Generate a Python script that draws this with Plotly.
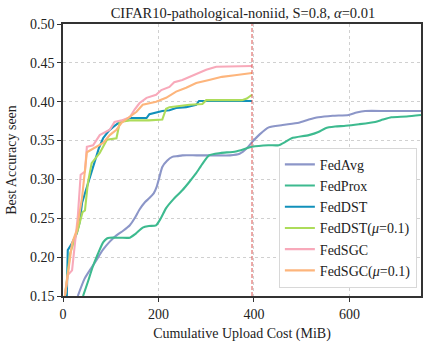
import plotly.graph_objects as go

TITLE = "CIFAR10-pathological-noniid, S=0.8, <i>α</i>=0.01"
BUDGET = 396

avg_x = [31, 45, 56, 70, 83, 98, 112, 126, 140, 150, 160, 172, 181, 190, 196, 202, 208, 218, 229, 240, 250, 280, 320, 350, 370, 385, 396, 412, 431, 460, 494, 515, 535, 565, 598, 615, 633, 680, 750]
avg_y = [0.15, 0.172, 0.183, 0.196, 0.209, 0.220, 0.228, 0.234, 0.241, 0.250, 0.261, 0.271, 0.276, 0.282, 0.290, 0.303, 0.316, 0.324, 0.329, 0.330, 0.331, 0.331, 0.331, 0.331, 0.333, 0.340, 0.348, 0.358, 0.367, 0.370, 0.373, 0.377, 0.380, 0.382, 0.383, 0.386, 0.388, 0.388, 0.388]

prox_x = [42, 52, 62, 73, 84, 92, 98, 120, 140, 152, 167, 180, 195, 205, 216, 232, 250, 265, 279, 292, 306, 330, 362, 396, 430, 452, 465, 479, 515, 535, 550, 570, 592, 620, 654, 670, 688, 720, 750]
prox_y = [0.15, 0.168, 0.187, 0.204, 0.219, 0.224, 0.225, 0.225, 0.225, 0.230, 0.238, 0.240, 0.241, 0.250, 0.263, 0.275, 0.286, 0.297, 0.308, 0.320, 0.331, 0.334, 0.336, 0.342, 0.344, 0.344, 0.348, 0.353, 0.357, 0.361, 0.366, 0.368, 0.369, 0.371, 0.374, 0.377, 0.380, 0.381, 0.383]

dst_x = [8, 10, 15, 19, 29, 35, 40, 52, 60, 67, 75, 84, 95, 104, 119, 140, 175, 181, 208, 223, 237, 258, 279, 285, 330, 396]
dst_y = [0.15, 0.209, 0.214, 0.218, 0.231, 0.245, 0.270, 0.295, 0.310, 0.325, 0.340, 0.353, 0.362, 0.367, 0.374, 0.379, 0.379, 0.384, 0.388, 0.389, 0.392, 0.393, 0.396, 0.401, 0.401, 0.401]

dstm_x = [4, 15, 31, 41, 46, 52, 60, 77, 92, 112, 119, 140, 180, 208, 216, 223, 265, 292, 300, 375, 385, 394, 396]
dstm_y = [0.15, 0.205, 0.235, 0.258, 0.260, 0.295, 0.321, 0.334, 0.351, 0.353, 0.374, 0.376, 0.376, 0.377, 0.391, 0.393, 0.396, 0.397, 0.402, 0.402, 0.404, 0.408, 0.409]

sgc_x = [4, 10, 19, 25, 31, 37, 46, 50, 63, 77, 98, 108, 123, 140, 150, 160, 175, 195, 206, 223, 233, 250, 265, 285, 300, 321, 360, 396]
sgc_y = [0.15, 0.177, 0.183, 0.215, 0.252, 0.306, 0.310, 0.342, 0.344, 0.357, 0.364, 0.374, 0.376, 0.380, 0.390, 0.398, 0.405, 0.409, 0.415, 0.419, 0.425, 0.428, 0.432, 0.437, 0.441, 0.445, 0.446, 0.446]

sgcm_x = [4, 19, 29, 40, 50, 63, 84, 98, 112, 123, 136, 154, 167, 195, 216, 237, 258, 279, 306, 333, 360, 396]
sgcm_y = [0.15, 0.218, 0.235, 0.277, 0.335, 0.340, 0.347, 0.357, 0.364, 0.373, 0.379, 0.387, 0.396, 0.400, 0.405, 0.413, 0.418, 0.424, 0.428, 0.432, 0.434, 0.437]

series = [
    ("FedAvg", avg_x, avg_y, "#8c96c8", "spline"),
    ("FedProx", prox_x, prox_y, "#3dba8f", "spline"),
    ("FedDST", dst_x, dst_y, "#1190ba", "linear"),
    ("FedDST(<i>μ</i>=0.1)", dstm_x, dstm_y, "#addc5a", "linear"),
    ("FedSGC", sgc_x, sgc_y, "#f8a9ba", "linear"),
    ("FedSGC(<i>μ</i>=0.1)", sgcm_x, sgcm_y, "#fdb57c", "linear"),
]

FONT = "Liberation Serif, Times New Roman, Times, serif"
FS = 14
fig = go.Figure()
for name, xs, ys, col, shp in series:
    fig.add_trace(go.Scatter(x=xs, y=ys, mode="lines", name=name,
                             line=dict(color=col, width=2.1, shape=shp, smoothing=0.6)))

fig.add_shape(type="line", xref="x", yref="paper", x0=BUDGET, x1=BUDGET, y0=0, y1=1,
              line=dict(color="#d9534f", width=1, dash="4px,2px"))

fig.update_layout(
    width=424, height=343,
    margin=dict(l=63, r=1, t=24, b=47),
    paper_bgcolor="white", plot_bgcolor="white",
    font=dict(family=FONT, size=FS, color="#222"),
    title=dict(text=TITLE, x=0.573, xanchor="center", y=0.962, yanchor="middle",
               font=dict(family=FONT, size=14.5)),
    legend=dict(x=0.603, y=0.545, xanchor="left", yanchor="top",
                bgcolor="white", bordercolor="#d8d8d8", borderwidth=1,
                font=dict(family=FONT, size=FS), tracegroupgap=0, itemwidth=30),
    showlegend=True,
)
fig.update_xaxes(range=[0, 750], tickvals=[0, 200, 400, 600], showgrid=True,
                 gridcolor="#d0d0d0", griddash="dot", gridwidth=1,
                 showline=True, linecolor="#333", linewidth=1.5, mirror=True,
                 ticks="outside", ticklen=4, tickcolor="#333", zeroline=False,
                 tickfont=dict(family=FONT, size=FS),
                 title=dict(text="Cumulative Upload Cost (MiB)", standoff=8,
                            font=dict(family=FONT, size=FS)))
fig.update_yaxes(range=[0.15, 0.50], tickvals=[0.15, 0.2, 0.25, 0.3, 0.35, 0.4, 0.45, 0.5],
                 tickformat=".2f", showgrid=True,
                 gridcolor="#d0d0d0", griddash="dot", gridwidth=1,
                 showline=True, linecolor="#333", linewidth=1.5, mirror=True,
                 ticks="outside", ticklen=4, tickcolor="#333", zeroline=False,
                 tickfont=dict(family=FONT, size=FS),
                 title=dict(text="Best Accuracy seen", standoff=10,
                            font=dict(family=FONT, size=FS)))

fig.write_html("out.html")
